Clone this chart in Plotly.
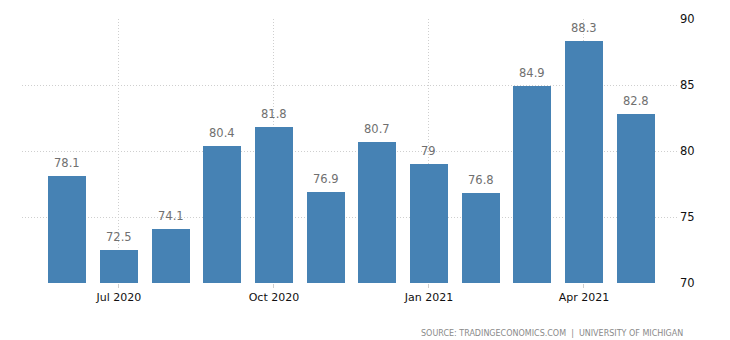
import plotly.graph_objects as go

# University of Michigan consumer sentiment, monthly
months = ["Jun 2020", "Jul 2020", "Aug 2020", "Sep 2020", "Oct 2020", "Nov 2020",
          "Dec 2020", "Jan 2021", "Feb 2021", "Mar 2021", "Apr 2021", "May 2021"]
values = [78.1, 72.5, 74.1, 80.4, 81.8, 76.9, 80.7, 79, 76.8, 84.9, 88.3, 82.8]
value_labels = ["78.1", "72.5", "74.1", "80.4", "81.8", "76.9",
                "80.7", "79", "76.8", "84.9", "88.3", "82.8"]
tick_labels = ["Jul 2020", "Oct 2020", "Jan 2021", "Apr 2021"]
y_ticks = [70, 75, 80, 85, 90]
y_base = 70

xpos = list(range(len(months)))
tick_pos = [months.index(t) for t in tick_labels]

fig = go.Figure()
fig.add_trace(go.Bar(
    x=xpos, y=[v - y_base for v in values], base=y_base,
    marker_color="#4682B4", marker_line_width=0, width=0.735,
    hovertext=months, hoverinfo="text",
))

for x, v, lab in zip(xpos, values, value_labels):
    fig.add_annotation(x=x, y=v, text=lab, showarrow=False,
                       yanchor="bottom", yshift=4,
                       font=dict(family="DejaVu Sans", size=11.5, color="#707070"))

fig.add_annotation(
    xref="paper", yref="paper", x=1.0, y=-0.165, xanchor="right", yanchor="top",
    xshift=6,
    text="SOURCE: TRADINGECONOMICS.COM  |  UNIVERSITY OF MICHIGAN",
    showarrow=False, font=dict(family="DejaVu Sans", size=8, color="#8a8a8a"),
)

grid_style = dict(showgrid=True, gridcolor="#cfcfcf", griddash="1px,2px", gridwidth=1)

fig.update_layout(
    width=730, height=340,
    margin=dict(l=22, r=51, t=19, b=57),
    plot_bgcolor="white", paper_bgcolor="white",
    showlegend=False, bargap=0,
    xaxis=dict(
        range=[-0.877, 11.84], tickvals=tick_pos, ticktext=tick_labels,
        ticks="outside", ticklen=4, tickcolor="#cfcfcf",
        tickfont=dict(family="DejaVu Sans", size=11, color="#111"),
        zeroline=False, showline=False, **grid_style,
    ),
    yaxis=dict(
        range=[70, 90], side="right", tickvals=y_ticks,
        tickfont=dict(family="DejaVu Sans", size=11.5, color="#111"),
        ticks="", ticklabelstandoff=0, zeroline=False, showline=False,
        **grid_style,
    ),
)

fig.write_html("out.html")
